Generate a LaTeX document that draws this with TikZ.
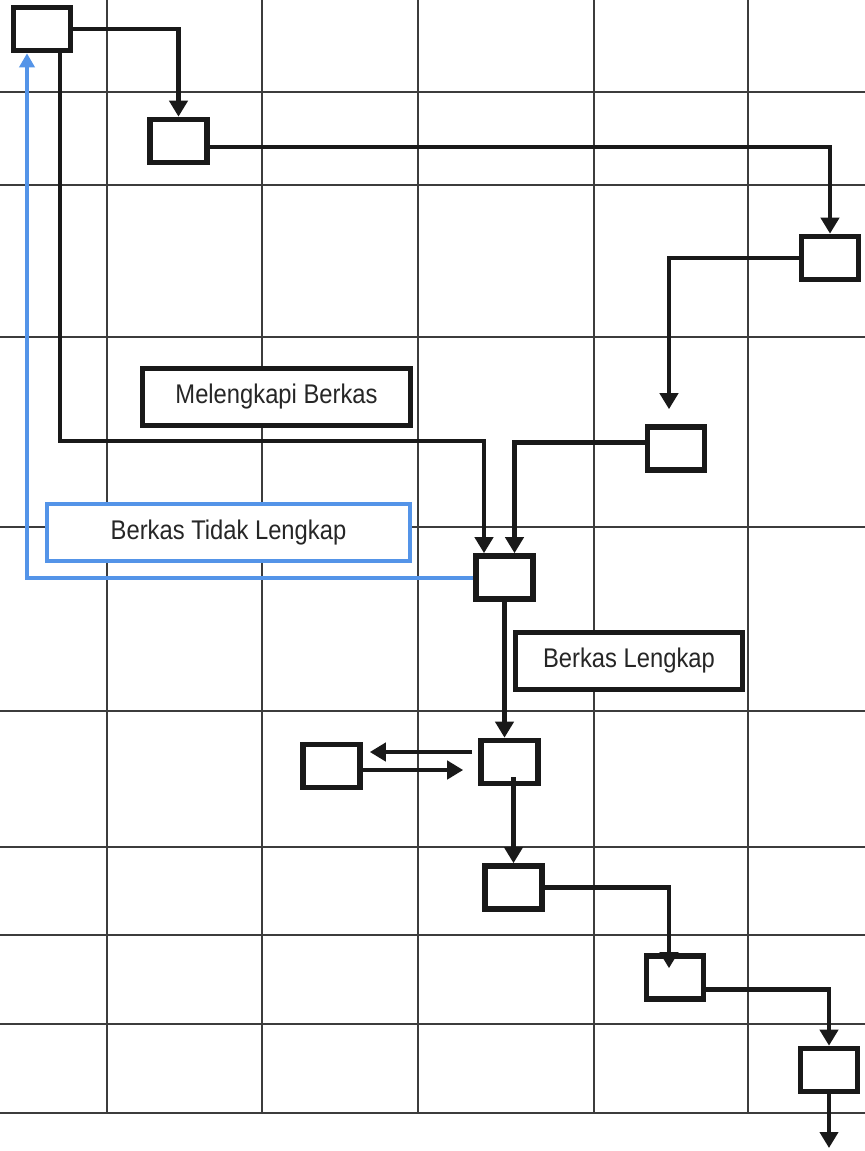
\documentclass[tikz,border=0pt]{standalone}
\usepackage{fontspec}
\setmainfont{Liberation Sans}
\newfontfamily\labelfont[FakeStretch=0.88]{Liberation Sans}
\usetikzlibrary{arrows.meta}
\definecolor{gridgray}{RGB}{60,60,60}
\definecolor{flowblue}{RGB}{84,148,232}
\tikzset{
  gridline/.style={gridgray, line width=0.7pt},
  stepnode/.style={draw=black!90, line width=2.8pt, fill=white, minimum width=28.5pt, minimum height=21.5pt, inner sep=0pt},
  labelbox/.style={draw=black!90, line width=2.8pt, fill=white, inner sep=0pt, text=black!85, font=\labelfont\fontsize{13.5}{15}\selectfont},
  flow/.style={black!90, line width=2.4pt, -{Triangle[length=8pt,width=9pt]}},
  backflow/.style={flowblue, line width=2pt, -{Triangle[length=7pt,width=7.5pt]}}
}
\begin{document}
\begin{tikzpicture}[x=0.5pt,y=-0.5pt]
  \useasboundingbox (0,0) rectangle (865,1151);
  \fill[white] (0,0) rectangle (865,1151);
  \foreach \gx in {107,262,418,594,748}
    \draw[gridline] (\gx,0) -- (\gx,1113);
  \foreach \gy in {92,185,337,527,711,847,935,1024,1113}
    \draw[gridline] (0,\gy) -- (865,\gy);

  \node[stepnode] (A) at (42,29) {};
  \node[stepnode] (B) at (178.5,141) {};
  \node[stepnode] (C) at (830,258) {};
  \node[stepnode] (D) at (676,448.5) {};
  \node[stepnode] (E) at (504.5,577.5) {};
  \node[stepnode] (F) at (509.5,762) {};
  \node[stepnode] (G) at (331.5,766) {};
  \node[stepnode] (H) at (513.5,887.5) {};
  \node[stepnode] (I) at (675,977.5) {};
  \node[stepnode] (J) at (829,1070) {};

  \node[labelbox, minimum width=134pt, minimum height=28.5pt] (melengkapi) at (276.5,397) {Melengkapi Berkas};
  \node[labelbox, draw=flowblue, line width=2pt, minimum width=181.5pt, minimum height=28.5pt] (tidaklengkap) at (228.5,532.5) {Berkas Tidak Lengkap};
  \node[labelbox, minimum width=113.5pt, minimum height=28.5pt] (lengkap) at (629,661) {Berkas Lengkap};

  \coordinate (joinA) at (484,441);
  \coordinate (exit) at (829,1148);

  \draw[flow] (A.east) -| (B.north);
  \draw[flow] ([yshift=-3pt]B.east) -| (C.north);
  \draw[flow, shorten >=7.5pt] (C.west) -| ([xshift=-3.5pt]D.north);
  \draw[flow] ([xshift=9pt]A.south) |- (joinA) -- (joinA |- E.north);
  \draw[flow] ([yshift=3pt]D.west) -| ([xshift=5pt]E.north);
  \draw[backflow] (E.west) -| ([xshift=-7.5pt]A.south);
  \draw[flow] (E.south) -- (E.south |- F.north);
  \draw[flow, shorten <=3pt, shorten >=3.5pt] ([yshift=5pt]F.west) -- ([yshift=5pt]F.west -| G.east);
  \draw[flow, shorten >=7.5pt] ([yshift=-2pt]G.east) -- ([yshift=-2pt]G.east -| F.west);
  \draw[flow, shorten <=-4.5pt] (F.south -| H.north) -- (H.north);
  \draw[flow, shorten >=-7.5pt] (H.east) -| ([xshift=-3pt]I.north);
  \draw[flow] ([yshift=-6pt]I.east) -| (J.north);
  \draw[flow] (J.south) -- (exit);
\end{tikzpicture}
\end{document}
